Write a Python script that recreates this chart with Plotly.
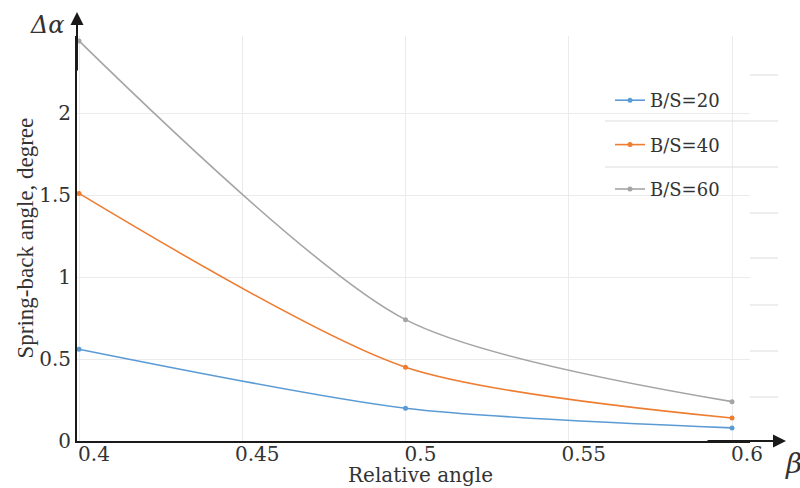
import plotly.graph_objects as go

# ---- data ----
relative_angle = [0.4, 0.5, 0.6]
bs20 = [0.56, 0.20, 0.08]
bs40 = [1.51, 0.45, 0.14]
bs60 = [2.44, 0.74, 0.24]
series_names = ["B/S=20", "B/S=40", "B/S=60"]
series_colors = ["#5b9bd5", "#ed7d31", "#a5a5a5"]
x_ticks = [0.4, 0.45, 0.5, 0.55, 0.6]
x_ticktext = ["0.4", "0.45", "0.5", "0.55", "0.6"]
y_ticks = [0, 0.5, 1, 1.5, 2]
y_ticktext = ["0", "0.5", "1", "1.5", "2"]

fig = go.Figure()
for i, (name, vals, col) in enumerate(zip(series_names, [bs20, bs40, bs60], series_colors)):
    fig.add_trace(go.Scatter(
        x=relative_angle, y=vals, name=name, mode="lines+markers",
        line=dict(color=col, width=1.6, shape="spline", smoothing=0.75),
        marker=dict(color=col, size=5),
        legendgroup=f"g{i}",
    ))

W, H = 800, 488
ml, mr, mt, mb = 77, 50, 36, 47
pw, ph = W - ml - mr, H - mt - mb

def px_x(p):  # pixel x -> paper
    return (p - ml) / pw

def px_y(p):  # pixel y -> paper
    return (H - mb - p) / ph

serif = "DejaVu Serif"
shapes = []
# small right-side segments
for yy in [75, 213, 258, 305, 351, 397]:
    shapes.append(dict(type="line", xref="paper", yref="paper",
                       x0=px_x(750), x1=px_x(778), y0=px_y(yy), y1=px_y(yy),
                       line=dict(color="#dcdcdc", width=1)))
# legend separators
for yy in [121, 167]:
    shapes.append(dict(type="line", xref="paper", yref="paper",
                       x0=px_x(605), x1=px_x(778), y0=px_y(yy), y1=px_y(yy),
                       line=dict(color="#dcdcdc", width=1)))
# white box behind legend hiding horizontal gridlines (keeps vertical grid at 0.6)
shapes.append(dict(type="rect", xref="x", yref="paper", layer="between",
                   x0=0.561, x1=0.5994, y0=px_y(215), y1=px_y(72),
                   fillcolor="white", line=dict(width=0)))
shapes.append(dict(type="rect", xref="x", yref="paper", layer="between",
                   x0=0.6006, x1=0.6056, y0=px_y(215), y1=px_y(72),
                   fillcolor="white", line=dict(width=0)))

annotations = [
    dict(text="Spring-back angle, degree", xref="paper", yref="paper",
         x=px_x(25), y=0.5, xanchor="center", yanchor="middle", textangle=-90,
         showarrow=False, font=dict(family="Liberation Serif", size=23, color="#333")),
    dict(text="Relative angle", xref="paper", yref="paper",
         x=px_x(420), y=px_y(475), xanchor="center", yanchor="middle",
         showarrow=False, font=dict(family=serif, size=20, color="#333")),
    dict(text="<i>Δα</i>", xref="paper", yref="paper",
         x=px_x(47), y=px_y(25), xanchor="center", yanchor="middle",
         showarrow=False, font=dict(family=serif, size=24, color="#333")),
    dict(text="<i>β</i>", xref="paper", yref="paper",
         x=px_x(793), y=px_y(463), xanchor="center", yanchor="middle",
         showarrow=False, font=dict(family=serif, size=28, color="#333")),
    # axis arrow heads
    dict(text="", xref="paper", yref="paper", x=0, y=px_y(12), ax=0, ay=60,
         showarrow=True, arrowhead=2, arrowsize=1.3, arrowwidth=2, arrowcolor="#1a1a1a"),
    dict(text="", xref="paper", yref="paper", x=px_x(786), y=0, ax=-80, ay=0,
         showarrow=True, arrowhead=2, arrowsize=1.3, arrowwidth=2, arrowcolor="#1a1a1a"),
]

fig.update_layout(
    width=W, height=H,
    margin=dict(l=ml, r=mr, t=mt, b=mb, autoexpand=False),
    plot_bgcolor="white", paper_bgcolor="white",
    showlegend=True,
    legend=dict(x=px_x(610), y=px_y(82), xanchor="left", yanchor="top",
                bgcolor="rgba(0,0,0,0)", traceorder="grouped", tracegroupgap=18,
                itemwidth=30,
                font=dict(family=serif, size=18, color="#333")),
    xaxis=dict(range=[0.399387, 0.605513], tickvals=x_ticks, ticktext=x_ticktext,
               showgrid=True, gridcolor="#ebebeb", gridwidth=1, zeroline=False,
               showline=True, linecolor="#1a1a1a", linewidth=2,
               ticks="", ticklabelshift=15, ticklabelstandoff=-6,
               tickfont=dict(family=serif, size=20, color="#333")),
    yaxis=dict(range=[0, 2.47], tickvals=y_ticks, ticktext=y_ticktext,
               showgrid=True, gridcolor="#ebebeb", gridwidth=1, zeroline=False,
               showline=True, linecolor="#1a1a1a", linewidth=2,
               ticks="", tickfont=dict(family=serif, size=20, color="#333")),
    shapes=shapes,
    annotations=annotations,
)

fig.write_html("out.html", config={"displayModeBar": False},
               post_script="document.body.style.margin='0';document.body.style.overflow='hidden';")
